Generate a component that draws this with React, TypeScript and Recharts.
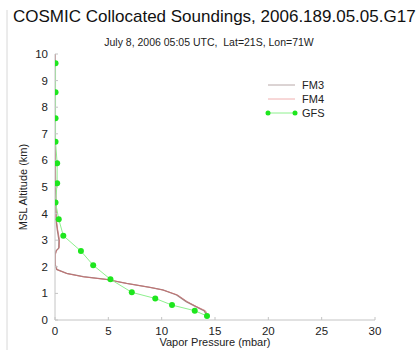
import React from "react";
import { LineChart, Line, XAxis, YAxis } from "recharts";

// GFS model levels: vapor pressure (mbar) vs altitude (km)
const gfsVapor = [14.25, 13.1, 10.97, 9.4, 7.2, 5.2, 3.58, 2.43, 0.78, 0.35, 0.05, 0.2, 0.2, 0.05, 0.05, 0.05, 0.05];
const gfsAlt = [0.15, 0.35, 0.56, 0.81, 1.04, 1.53, 2.06, 2.59, 3.17, 3.79, 4.42, 5.14, 5.89, 6.7, 7.58, 8.56, 9.65];

// COSMIC FM3 retrieval
const fm3Vapor = [14.2, 14.0, 13.2, 12.3, 11.4, 10.1, 8.9, 6.7, 4.8, 2.65, 1.1, 0.16, 0.03, 0.0, 0.0, 0.1, 0.35, 0.37, 0.22, 0.1, 0.08, 0.05, 0.03, 0.02, 0.01, 0.0];
const fm3Alt = [0.19, 0.34, 0.5, 0.69, 0.94, 1.13, 1.23, 1.38, 1.53, 1.63, 1.75, 1.9, 2.07, 2.25, 2.45, 2.6, 2.7, 3.0, 3.38, 3.76, 4.2, 5.0, 6.0, 7.5, 8.8, 10.0];

// COSMIC FM4 retrieval
const fm4Vapor = [14.3, 14.1, 13.3, 12.4, 11.5, 10.2, 9.0, 6.8, 4.9, 2.7, 1.15, 0.2, 0.05, 0.02, 0.03, 0.15, 0.4, 0.42, 0.25, 0.12, 0.1, 0.06, 0.04, 0.03, 0.02, 0.01];
const fm4Alt = [0.2, 0.35, 0.5, 0.69, 0.94, 1.12, 1.22, 1.37, 1.52, 1.62, 1.74, 1.89, 2.05, 2.25, 2.45, 2.62, 2.72, 3.02, 3.4, 3.78, 4.2, 5.0, 6.0, 7.5, 8.8, 10.0];

const xTicks = [0, 5, 10, 15, 20, 25, 30];
const yTicks = [0, 1, 2, 3, 4, 5, 6, 7, 8, 9, 10];

const toRows = (xs: number[], ys: number[]) => xs.map((v, i) => ({ vp: v, alt: ys[i] }));

const gfsData = toRows(gfsVapor, gfsAlt);
const fm3Data = toRows(fm3Vapor, fm3Alt);
const fm4Data = toRows(fm4Vapor, fm4Alt);

const FONT = "'Liberation Sans', Arial, sans-serif";
const FRAME = "#c4c4c4";
const tickStyle = { fill: "#222", fontSize: 11.5, fontFamily: FONT };

export default function App() {
  return (
    <div style={{ position: "absolute", left: 0, top: 0, width: 420, height: 350, background: "#fff" }}>
      <LineChart width={420} height={350} margin={{ top: 54, right: 45, bottom: 0, left: 25 }}>
        <XAxis
          xAxisId="b"
          type="number"
          dataKey="vp"
          domain={[0, 30]}
          ticks={xTicks}
          allowDataOverflow
          height={30}
          stroke={FRAME}
          tickSize={-3}
          tickMargin={10}
          tick={tickStyle}
          interval={0}
        />
        <XAxis
          xAxisId="t"
          orientation="top"
          type="number"
          dataKey="vp"
          domain={[0, 30]}
          ticks={xTicks}
          height={0}
          stroke={FRAME}
          tickSize={-3}
          tickFormatter={() => ""}
          interval={0}
        />
        <YAxis
          yAxisId="l"
          type="number"
          domain={[0, 10]}
          ticks={yTicks}
          width={30}
          stroke={FRAME}
          tickSize={-3}
          tickMargin={10}
          tick={tickStyle}
          interval={0}
        />
        <YAxis
          yAxisId="r"
          orientation="right"
          type="number"
          domain={[0, 10]}
          ticks={yTicks}
          width={0}
          stroke={FRAME}
          tickSize={-3}
          tickFormatter={() => ""}
          interval={0}
        />
        <Line
          xAxisId="b"
          yAxisId="l"
          data={fm3Data}
          dataKey="alt"
          stroke="#a08080"
          strokeWidth={1.3}
          dot={false}
          isAnimationActive={false}
        />
        <Line
          xAxisId="b"
          yAxisId="l"
          data={fm4Data}
          dataKey="alt"
          stroke="#c87070"
          strokeWidth={1}
          strokeOpacity={0.8}
          dot={false}
          isAnimationActive={false}
        />
        <Line
          xAxisId="b"
          yAxisId="l"
          data={gfsData}
          dataKey="alt"
          stroke="#8ef08e"
          strokeWidth={1}
          dot={{ r: 3, fill: "#1ee61e", stroke: "#1ee61e", strokeWidth: 0 }}
          isAnimationActive={false}
        />
      </LineChart>
      <svg
        width={420}
        height={350}
        style={{ position: "absolute", left: 0, top: 0, pointerEvents: "none" }}
        fontFamily={FONT}
      >
        <line x1={7} y1={10} x2={7} y2={350} stroke="#d8d8d8" strokeWidth={1} />
        <text x={13} y={22} fontSize={17} fill="#111">
          COSMIC Collocated Soundings, 2006.189.05.05.G17
        </text>
        <text x={209} y={45.5} fontSize={10.5} fill="#222" textAnchor="middle" style={{ whiteSpace: "pre" }}>
          {"July 8, 2006 05:05 UTC,  Lat=21S, Lon=71W"}
        </text>
        <text x={215} y={346} fontSize={11} fill="#222" textAnchor="middle">
          Vapor Pressure (mbar)
        </text>
        <text
          x={27}
          y={187}
          fontSize={11}
          fill="#222"
          textAnchor="middle"
          transform="rotate(-90 27 187)"
        >
          MSL Altitude (km)
        </text>
        <line x1={268} y1={85} x2={295} y2={85} stroke="#b8a8a8" strokeWidth={1} />
        <text x={302} y={89} fontSize={11} fill="#222">FM3</text>
        <line x1={268} y1={99} x2={295} y2={99} stroke="#f0b0b0" strokeWidth={1} />
        <text x={302} y={103} fontSize={11} fill="#222">FM4</text>
        <line x1={268} y1={113} x2={295} y2={113} stroke="#8ef08e" strokeWidth={1} />
        <circle cx={268} cy={113} r={2.5} fill="#1ee61e" />
        <circle cx={295} cy={113} r={2.5} fill="#1ee61e" />
        <text x={302} y={117} fontSize={11} fill="#222">GFS</text>
      </svg>
    </div>
  );
}
